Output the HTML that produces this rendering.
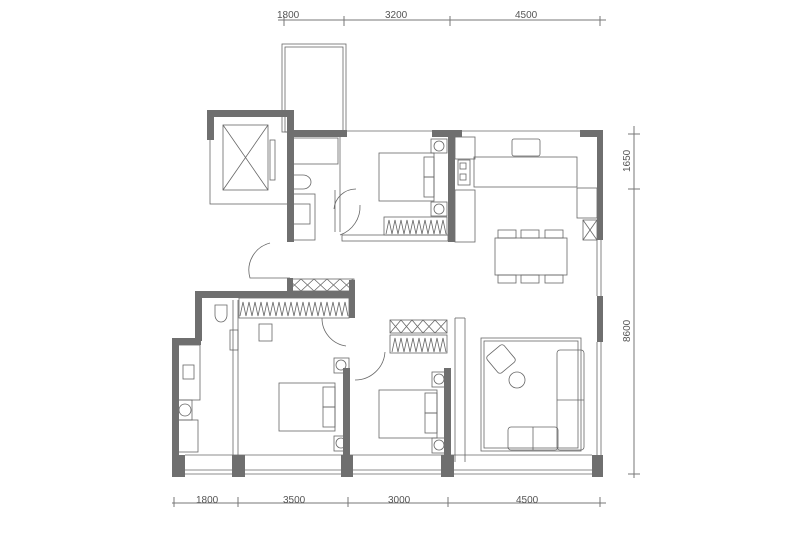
<!DOCTYPE html>
<html><head><meta charset="utf-8"><style>
body{margin:0;background:#fff}
svg{display:block}
text{font-family:"Liberation Sans",sans-serif;font-size:10px;fill:#555}
</style></head><body>
<svg width="800" height="533" viewBox="0 0 800 533" xmlns="http://www.w3.org/2000/svg">
<g stroke="#777" stroke-width="1" fill="none">
<!-- top dim -->
<line x1="278" y1="20" x2="606" y2="20"/>
<line x1="284" y1="16" x2="284" y2="26"/><line x1="344" y1="16" x2="344" y2="26"/><line x1="450" y1="16" x2="450" y2="26"/><line x1="600" y1="16" x2="600" y2="26"/>
<!-- bottom dim -->
<line x1="172" y1="503" x2="606" y2="503"/>
<line x1="174" y1="497" x2="174" y2="507"/><line x1="238" y1="497" x2="238" y2="507"/><line x1="348" y1="497" x2="348" y2="507"/><line x1="448" y1="497" x2="448" y2="507"/><line x1="600" y1="497" x2="600" y2="507"/>
<!-- right dim -->
<line x1="634" y1="126" x2="634" y2="478"/>
<line x1="628" y1="134" x2="640" y2="134"/><line x1="628" y1="189" x2="640" y2="189"/><line x1="628" y1="474" x2="640" y2="474"/>
</g>
<text x="277" y="18">1800</text><text x="385" y="18">3200</text><text x="515" y="18">4500</text>
<text x="196" y="503">1800</text><text x="283" y="503">3500</text><text x="388" y="503">3000</text><text x="516" y="503">4500</text>
<text transform="translate(630,172) rotate(-90)">1650</text>
<text transform="translate(630,342) rotate(-90)">8600</text>

<g fill="none" stroke="#666" stroke-width="0.8">
<!-- balcony -->
<rect x="282" y="44" width="64" height="88"/><rect x="285" y="47" width="58" height="85"/>
<!-- elevator -->
<rect x="210" y="112" width="78" height="92"/>
<rect x="223" y="125" width="45" height="65"/>
<line x1="223" y1="125" x2="268" y2="190"/><line x1="268" y1="125" x2="223" y2="190"/>
<rect x="270" y="140" width="5" height="40"/>
<!-- bath top -->
<rect x="293" y="138" width="45" height="26"/>
<path d="M293 175 h10 a8 7 0 0 1 0 14 h-10 z"/>
<rect x="293" y="204" width="17" height="20"/>
<rect x="293" y="194" width="22" height="46"/>
<path d="M334 209 a22 22 0 0 1 22 -20"/>
<path d="M270 243 a28 28 0 0 0 -20 35 h40"/>
<line x1="335" y1="190" x2="335" y2="232"/><line x1="340" y1="137" x2="340" y2="232"/>
<!-- bed top -->
<rect x="379" y="153" width="55" height="48"/>
<rect x="431" y="139" width="16" height="14"/><circle cx="439" cy="146" r="5"/>
<rect x="431" y="202" width="16" height="14"/><circle cx="439" cy="209" r="5"/>
<rect x="424" y="157" width="10" height="20"/><rect x="424" y="177" width="10" height="20"/>
<path d="M360 205 a30 30 0 0 1 -20 30"/>
<rect x="384" y="217" width="63" height="18"/>
<path d="M386 234 l3 -14 l3 14 l3 -14 l3 14 l3 -14 l3 14 l3 -14 l3 14 l3 -14 l3 14 l3 -14 l3 14 l3 -14 l3 14 l3 -14 l3 14 l3 -14 l3 14 l3 -14 l3 14"/>
<rect x="342" y="235" width="106" height="6"/>
<!-- kitchen -->
<rect x="455" y="137" width="20" height="22"/>
<rect x="458" y="160" width="12" height="25"/><rect x="460" y="163" width="6" height="6"/><rect x="460" y="174" width="6" height="6"/>
<rect x="474" y="157" width="103" height="30"/>
<rect x="512" y="139" width="28" height="17" rx="2"/>
<rect x="577" y="188" width="20" height="30"/>
<rect x="583" y="220" width="14" height="20"/><line x1="583" y1="220" x2="597" y2="240"/><line x1="597" y1="220" x2="583" y2="240"/>
<rect x="455" y="190" width="20" height="52"/>
<!-- dining -->
<rect x="495" y="238" width="72" height="37"/>
<rect x="498" y="230" width="18" height="8"/><rect x="521" y="230" width="18" height="8"/><rect x="545" y="230" width="18" height="8"/>
<rect x="498" y="275" width="18" height="8"/><rect x="521" y="275" width="18" height="8"/><rect x="545" y="275" width="18" height="8"/>
<!-- living -->
<rect x="481" y="338" width="100" height="113"/><rect x="484" y="341" width="94" height="107"/>
<rect x="557" y="350" width="27" height="100" rx="3"/><line x1="557" y1="400" x2="584" y2="400"/>
<rect x="508" y="427" width="50" height="23" rx="3"/><line x1="533" y1="427" x2="533" y2="450"/>
<circle cx="517" cy="380" r="8"/>
<rect x="490" y="348" width="22" height="22" rx="3" transform="rotate(-40 501 359)"/>
<!-- window right -->
<line x1="597" y1="240" x2="597" y2="296"/><line x1="601" y1="240" x2="601" y2="296"/>
<line x1="597" y1="342" x2="597" y2="460"/><line x1="601" y1="342" x2="601" y2="460"/>
<line x1="455" y1="318" x2="455" y2="462"/><line x1="465" y1="318" x2="465" y2="462"/><line x1="455" y1="318" x2="465" y2="318"/>
<!-- wardrobe X strip -->
<rect x="288" y="279" width="66" height="12"/>
<path d="M288 279 l13 12 m0 -12 l-13 12 m13 -12 l13 12 m0 -12 l-13 12 m13 -12 l13 12 m0 -12 l-13 12 m13 -12 l13 12 m0 -12 l-13 12 m13 -12 l13 12 m0 -12 l-13 12"/>
<!-- lower-left bath -->
<path d="M215 305 h12 v10 a6 7 0 0 1 -12 0 z"/>
<rect x="178" y="345" width="22" height="55"/><rect x="183" y="365" width="11" height="14"/>
<rect x="178" y="400" width="14" height="20"/><circle cx="185" cy="410" r="6"/>
<rect x="178" y="420" width="20" height="32"/>
<line x1="233" y1="300" x2="233" y2="455"/><line x1="238" y1="300" x2="238" y2="455"/>
<rect x="230" y="330" width="8" height="20"/>
<!-- wardrobe bed2 -->
<rect x="239" y="298" width="110" height="20"/>
<path d="M240 316 l3 -14 l3 14 l3 -14 l3 14 l3 -14 l3 14 l3 -14 l3 14 l3 -14 l3 14 l3 -14 l3 14 l3 -14 l3 14 l3 -14 l3 14 l3 -14 l3 14 l3 -14 l3 14 l3 -14 l3 14 l3 -14 l3 14 l3 -14 l3 14 l3 -14 l3 14 l3 -14 l3 14 l3 -14 l3 14 l3 -14 l3 14 l3 -14 l3 14"/>
<rect x="259" y="324" width="13" height="17"/>
<path d="M322 318 a28 28 0 0 0 24 28"/>
<rect x="279" y="383" width="56" height="48"/>
<rect x="323" y="387" width="12" height="20"/><rect x="323" y="407" width="12" height="20"/>
<rect x="334" y="358" width="15" height="15"/><circle cx="341" cy="365" r="5"/>
<rect x="334" y="436" width="15" height="15"/><circle cx="341" cy="443" r="5"/>
<!-- bed3 -->
<rect x="390" y="320" width="57" height="13"/>
<path d="M390 320 l11 13 m0 -13 l-11 13 m11 -13 l11 13 m0 -13 l-11 13 m11 -13 l11 13 m0 -13 l-11 13 m11 -13 l12 13 m0 -13 l-12 13 m12 -13 l12 13 m0 -13 l-12 13"/>
<rect x="390" y="335" width="57" height="18"/>
<path d="M392 352 l3 -14 l3 14 l3 -14 l3 14 l3 -14 l3 14 l3 -14 l3 14 l3 -14 l3 14 l3 -14 l3 14 l3 -14 l3 14 l3 -14 l3 14 l3 -14 l3 14"/>
<path d="M385 352 a30 30 0 0 1 -30 28"/>
<rect x="379" y="390" width="58" height="48"/>
<rect x="425" y="393" width="12" height="20"/><rect x="425" y="413" width="12" height="20"/>
<rect x="432" y="372" width="15" height="15"/><circle cx="439" cy="379" r="5"/>
<rect x="432" y="438" width="15" height="15"/><circle cx="439" cy="445" r="5"/>
<!-- bottom windows -->
<line x1="185" y1="470" x2="592" y2="470"/><line x1="185" y1="474" x2="592" y2="474"/>
<line x1="185" y1="455" x2="592" y2="455"/>
<!-- top windows -->
<line x1="346" y1="131" x2="436" y2="131"/><line x1="462" y1="131" x2="580" y2="131"/>
</g>

<g fill="#6f6f6f">
<!-- elevator walls -->
<rect x="207" y="110" width="80" height="7"/><rect x="207" y="110" width="7" height="30"/>
<rect x="287" y="110" width="7" height="132"/>
<!-- top wall -->
<rect x="287" y="130" width="60" height="7"/><rect x="335" y="130" width="12" height="7"/>
<rect x="432" y="130" width="30" height="7"/><rect x="580" y="130" width="23" height="7"/>
<!-- right wall -->
<rect x="597" y="130" width="6" height="110"/>
<rect x="597" y="296" width="6" height="46"/>
<rect x="592" y="455" width="11" height="22"/>
<!-- kitchen/bed1 wall -->
<rect x="448" y="130" width="7" height="112"/>
<!-- entry wardrobe wall -->
<rect x="287" y="278" width="6" height="15"/>
<!-- lower-left -->
<rect x="195" y="291" width="160" height="7"/>
<rect x="195" y="291" width="7" height="50"/>
<rect x="172" y="338" width="29" height="7"/>
<rect x="172" y="338" width="7" height="139"/>
<rect x="349" y="280" width="6" height="38"/>
<!-- piers bottom -->
<rect x="172" y="455" width="13" height="22"/><rect x="232" y="455" width="13" height="22"/>
<rect x="341" y="455" width="12" height="22"/><rect x="441" y="455" width="13" height="22"/>
<!-- bed walls -->
<rect x="343" y="368" width="7" height="100"/>
<rect x="444" y="368" width="7" height="100"/>
<rect x="172" y="470" width="431" height="7" fill="none"/>
</g>
</svg>
</body></html>
